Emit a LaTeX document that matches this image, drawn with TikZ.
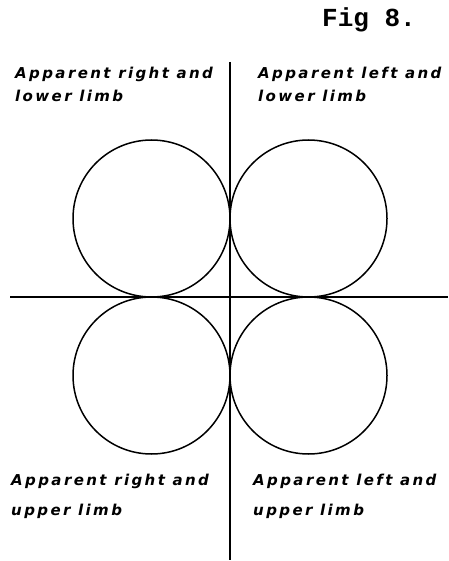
\documentclass[tikz,border=0pt]{standalone}
\usepackage{fontspec}
\usetikzlibrary{positioning}
\newfontfamily\leroy[LetterSpace=16]{DejaVu Sans}
\newfontfamily\typewr{Liberation Mono}
\tikzset{
    limb/.style={
        circle,                 % disco del sol
        draw=black,
        line width=1.5pt,
        minimum size=157pt,
        inner sep=0pt
    },
    limbtext/.style={
        anchor=base west,
        align=left,
        inner sep=0pt,
        font=\leroy\bfseries\itshape\fontsize{15}{23}\selectfont
    },
    axisline/.style={
        line width=1.7pt
    }
}

\begin{document}
\begin{tikzpicture}[x=1pt,y=-1pt]
			\useasboundingbox (0,0) rectangle (448,561);
			\node[anchor=base west, inner sep=0pt, font=\typewr\bfseries\fontsize{26}{26}\selectfont] (fig) at (322,27) {Fig 8.};

			% ejes
			\coordinate (vtop) at (230,62);
			\coordinate (vbot) at (230,560);
			\coordinate (hleft) at (10,297);
			\coordinate (hright) at (448,297);
			\draw[axisline] (vtop) -- (vbot);
			\draw[axisline] (hleft) -- (hright);

			% discos
			\node[limb] (rl) at (151.5,218.5) {};
			\node[limb] (ll) at (308.5,218.5) {};
			\node[limb] (ru) at (151.5,375.5) {};
			\node[limb] (lu) at (308.5,375.5) {};

			% la línea base del nodo es la de la última línea
			\node[limbtext] (rltext) at (15,101.5) {Apparent right and\\lower limb};
			\node[limbtext] (lltext) at (258,101.5) {Apparent left and\\lower limb};
			\node[limbtext] (rutext) at (11,515) {Apparent right and\\[7pt]upper limb};
			\node[limbtext] (lutext) at (253,515) {Apparent left and\\[7pt]upper limb};
		\end{tikzpicture}
\end{document}
